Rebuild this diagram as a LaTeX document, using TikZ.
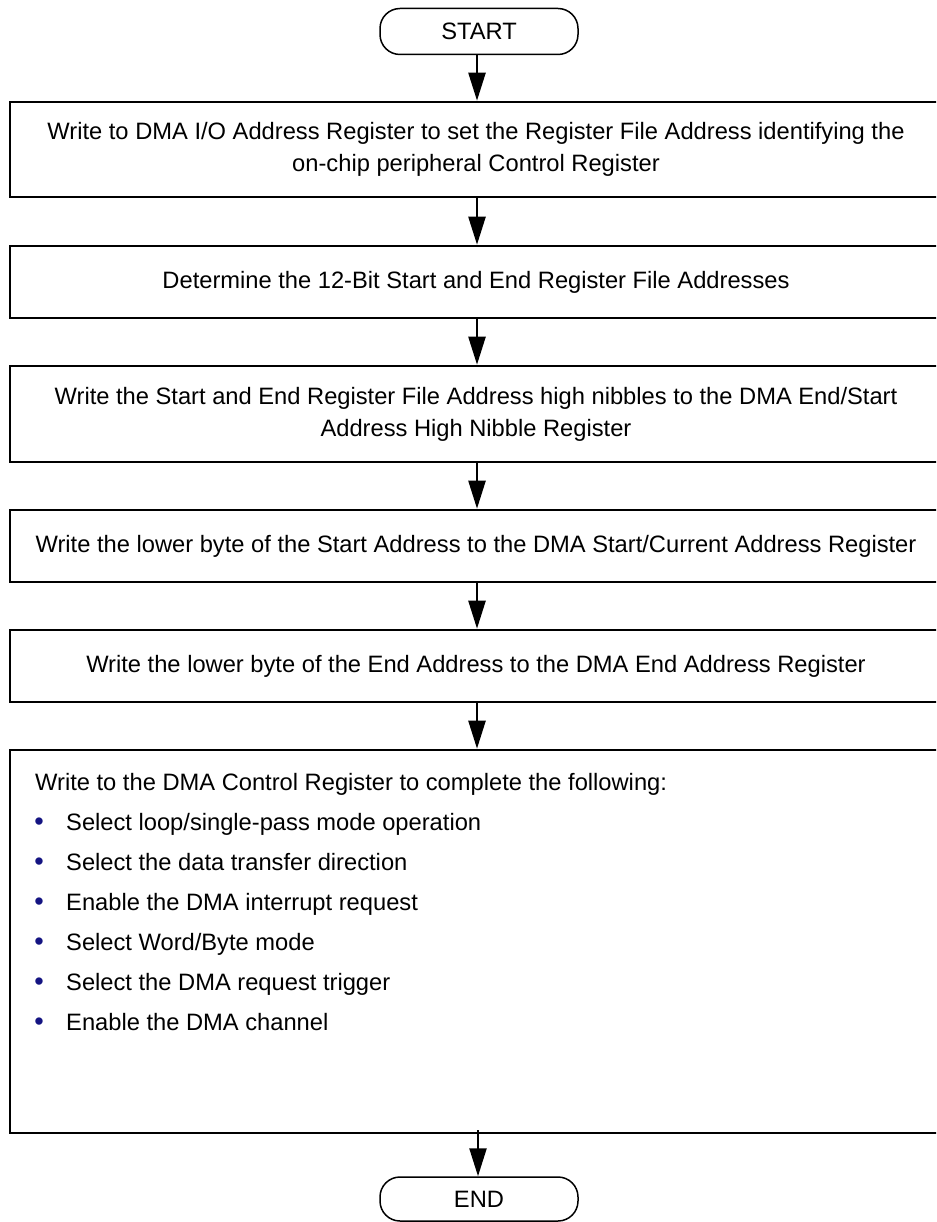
\documentclass[tikz,border=0pt]{standalone}
\usepackage{fontspec}
\setmainfont{Liberation Sans}
\usetikzlibrary{arrows.meta}
\definecolor{bulletblue}{RGB}{20,20,130}
\begin{document}
\begin{tikzpicture}[x=1pt,y=-1pt,
  stepbox/.style={draw,line width=2.6pt,minimum width=932pt,align=center,inner sep=0pt,font=\fontsize{23.7}{32}\selectfont},
  term/.style={draw,line width=1.5pt,rounded corners=20pt,minimum width=198pt,minimum height=46pt,inner sep=0pt,font=\fontsize{23.7}{28}\selectfont},
  flow/.style={line width=2.4pt,-{Triangle[length=28pt,width=17pt]}},
  txt/.style={anchor=base west,inner sep=0pt,font=\fontsize{23.7}{28}\selectfont},
  dot/.style={anchor=base,inner sep=0pt,text=bulletblue,font=\fontsize{27}{28}\selectfont}]
\clip (0,0) rectangle (936,1222);
\node[term] (start) at (479,31.5) {START};
\node[stepbox,minimum height=95pt] (b1) at (476,149.5) {Write to DMA I/O Address Register to set the Register File Address identifying the\\on-chip peripheral Control Register};
\node[stepbox,minimum height=72pt] (b2) at (476,282) {Determine the 12-Bit Start and End Register File Addresses};
\node[stepbox,minimum height=96pt] (b3) at (476,414) {Write the Start and End Register File Address high nibbles to the DMA End/Start\\Address High Nibble Register};
\node[stepbox,minimum height=72pt] (b4) at (476,546) {Write the lower byte of the Start Address to the DMA Start/Current Address Register};
\node[stepbox,minimum height=72pt] (b5) at (476,666) {Write the lower byte of the End Address to the DMA End Address Register};
\node[stepbox,minimum height=383pt] (b6) at (476,941.5) {};
\node[term,minimum height=44pt] (end) at (479,1199) {END};
\node[txt] (h) at (35,790) {Write to the DMA Control Register to complete the following:};
\foreach \i/\t in {1/{Select loop/single-pass mode operation},2/{Select the data transfer direction},3/{Enable the DMA interrupt request},4/{Select Word/Byte mode},5/{Select the DMA request trigger},6/{Enable the DMA channel}}{
  \node[dot] (d\i) at (39,790+40*\i) {•};
  \node[txt] (i\i) at (66,790+40*\i) {\t};
}
\draw[flow] (start.south -| 477,0) -- (b1.north -| 477,0);
\draw[flow] (b1.south -| 477,0) -- (b2.north -| 477,0);
\draw[flow] (b2.south -| 477,0) -- (b3.north -| 477,0);
\draw[flow] (b3.south -| 477,0) -- (b4.north -| 477,0);
\draw[flow] (b4.south -| 477,0) -- (b5.north -| 477,0);
\draw[flow] (b5.south -| 477,0) -- (b6.north -| 477,0);
\draw[flow] ([yshift=4pt]b6.south -| 478,0) -- (end.north -| 478,0);
\end{tikzpicture}
\end{document}
